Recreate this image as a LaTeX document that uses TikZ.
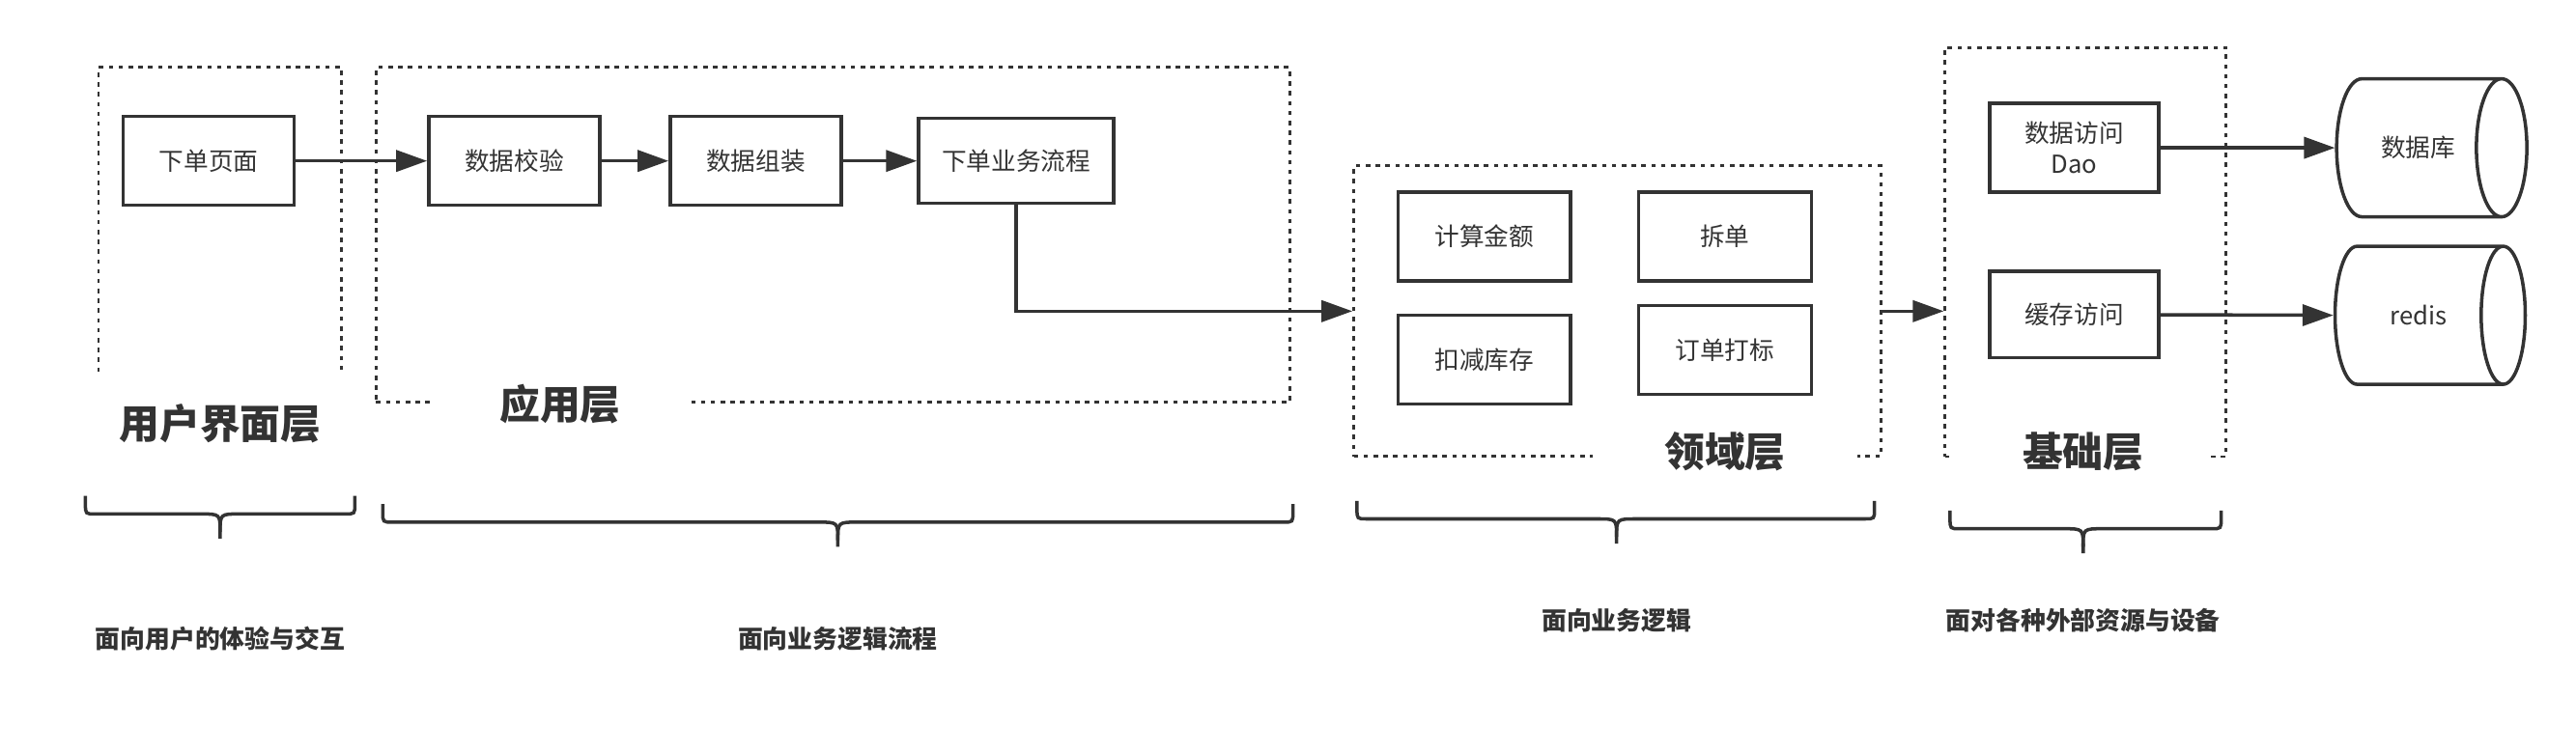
\documentclass[tikz,border=0pt]{standalone}
\usepackage{fontspec}
\setmainfont{Noto Sans CJK SC}
\usetikzlibrary{arrows.meta, shapes.geometric}
\usetikzlibrary{positioning}

\definecolor{ink}{HTML}{333333}

% curly brace under a layer: left x, right x, middle x, top y
\newcommand{\bracebelow}[4]{%
  \draw[bracepath] (#1,#4) -- (#1,#4+5) .. controls (#1,#4+11) .. (#1+6,#4+11)
    -- (#3-12,#4+11) .. controls (#3,#4+11) .. (#3,#4+22) -- (#3,#4+26);
  \draw[bracepath] (#2,#4) -- (#2,#4+5) .. controls (#2,#4+11) .. (#2-6,#4+11)
    -- (#3+12,#4+11) .. controls (#3,#4+11) .. (#3,#4+22);
}

\begin{document}
\begin{tikzpicture}[x=0.01701cm, y=-0.01701cm,
    font=\fontsize{7.3}{9}\selectfont,
    box/.style={draw=ink, line width=1pt, text=ink, minimum width=1.77cm, minimum height=0.92cm, inner sep=0pt, align=center},
    layerbox/.style={draw=ink, line width=0.8pt, dash pattern=on 1.3pt off 1.6pt, inner sep=0pt},
    layertitle/.style={fill=white, text=ink, font=\fontsize{11.9}{14}\selectfont\bfseries, minimum height=0.9cm, inner sep=0pt},
    note/.style={text=ink, font=\fontsize{7.35}{9}\selectfont\bfseries},
    flow/.style={draw=ink, line width=1pt, -{Triangle[length=3.2mm, width=2.2mm]}},
    store/.style={cylinder, draw=ink, line width=1pt, text=ink, minimum width=1.43cm, minimum height=1.97cm, aspect=2.2, inner sep=0pt},
    bracepath/.style={draw=ink, line width=1pt}]
    \useasboundingbox (0,0) rectangle (1568,458);

    % layers
    \node[layerbox, minimum width=2.52cm, minimum height=3.47cm] (uiLayer) at (134,143) {};
    \node[layerbox, minimum width=9.46cm, minimum height=3.47cm] (appLayer) at (507,143) {};
    \node[layerbox, minimum width=5.46cm, minimum height=3.01cm] (domainLayer) at (984.5,189.5) {};
    \node[layerbox, minimum width=2.91cm, minimum height=4.24cm] (infraLayer) at (1269.5,153.5) {};

    \node[layertitle, minimum width=2.65cm, minimum height=0.99cm] (uiTitle) at (134,258) {用户界面层};
    \node[layertitle, minimum width=2.6cm] (appTitle) at (341,246) {应用层};
    \node[layertitle, minimum width=2.74cm] (domainTitle) at (1050,275) {领域层};
    \node[layertitle, minimum width=2.65cm] (infraTitle) at (1268,275) {基础层};

    % boxes
    \node[box] (page) at (127,98) {下单页面};
    \node[box] (check) at (313,98) {数据校验};
    \node[box] (assemble) at (460,98) {数据组装};
    \node[box, minimum width=2.02cm, minimum height=0.88cm] (process) at (618.5,98) {下单业务流程};

    \node[box, minimum width=1.79cm] (amount) at (903.5,144) {计算金额};
    \node[box, minimum width=1.79cm] (split) at (1050,144) {拆单};
    \node[box, minimum width=1.79cm] (stock) at (903.5,219) {扣减库存};
    \node[box, minimum width=1.79cm] (mark) at (1050,213) {订单打标};

    \node[box, minimum width=1.75cm] (dao) at (1262.5,90) {数据访问\\Dao};
    \node[box, minimum width=1.75cm, minimum height=0.9cm] (cache) at (1262.5,191.5) {缓存访问};

    \node[store] (db) at (1472,90) {数据库};
    \node[store] (redis) at (1472,192) {redis};

    % connectors
    \draw[flow] (page) -- (check);
    \draw[flow] (check) -- (assemble);
    \draw[flow] (assemble) -- (process);
    \draw[flow] (process.south) |- (domainLayer.west);
    \draw[flow] (domainLayer.east) -- (domainLayer.east -| infraLayer.west);
    \draw[flow] (dao) -- (db.west);
    \draw[flow] (cache) -- (redis.west);

    % braces and notes
    \bracebelow{52}{216}{134}{302}
    \bracebelow{233}{787}{510}{307}
    \bracebelow{826}{1141}{984}{305}
    \bracebelow{1187}{1352}{1268}{311}

    \node[note] (uiNote) at (134,389) {面向用户的体验与交互};
    \node[note] (appNote) at (510,389) {面向业务逻辑流程};
    \node[note] (domainNote) at (984,378) {面向业务逻辑};
    \node[note] (infraNote) at (1268,378) {面对各种外部资源与设备};
\end{tikzpicture}
\end{document}
